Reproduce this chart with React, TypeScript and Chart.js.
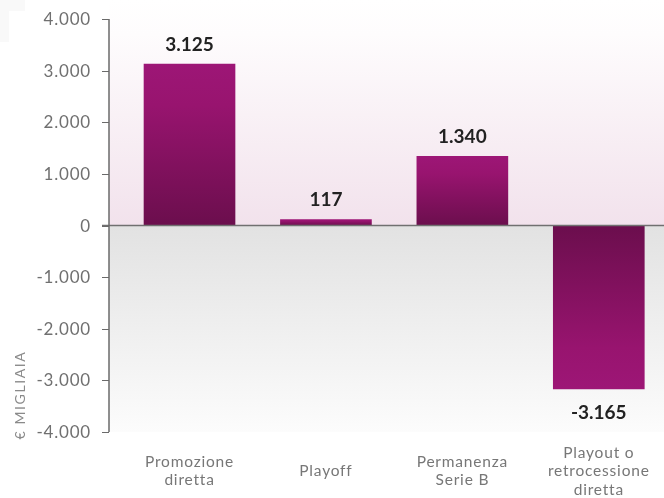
import React, { useEffect, useRef } from 'react';
import { Chart, registerables } from 'chart.js';

Chart.register(...registerables);

const categories: string[][] = [
  ['Promozione', 'diretta'],
  ['Playoff'],
  ['Permanenza', 'Serie B'],
  ['Playout o', 'retrocessione', 'diretta'],
];
const values: number[] = [3125, 117, 1340, -3165];
const yMin = -4000;
const yMax = 4000;
const yStep = 1000;
const yTitle = '€ MIGLIAIA';

function fmt(v: number): string {
  const s = Math.abs(Math.round(v)).toString();
  const withDots = s.replace(/\B(?=(\d{3})+(?!\d))/g, '.');
  return (v < 0 ? '-' : '') + withDots;
}

const FONT = 'Lato, "Open Sans", sans-serif';

const decorPlugin = {
  id: 'decor',
  beforeDraw(chart: any) {
    const { ctx, scales } = chart;
    const y = scales.y;
    const y0 = y.getPixelForValue(0);
    const yBot = y.getPixelForValue(yMin);
    const xl = 109;
    const xr = chart.width;
    ctx.save();
    ctx.fillStyle = '#f9f9f9';
    ctx.fillRect(0, 0, 25, 11);
    ctx.fillRect(0, 0, 9, 42);
    const gp = ctx.createLinearGradient(0, 0, 0, y0);
    gp.addColorStop(0, '#ffffff');
    gp.addColorStop(0.15, '#fefcfd');
    gp.addColorStop(1, '#f2e2ec');
    ctx.fillStyle = gp;
    ctx.fillRect(xl, 0, xr - xl, y0);
    const gg = ctx.createLinearGradient(0, y0, 0, yBot);
    gg.addColorStop(0, '#e2e2e2');
    gg.addColorStop(1, '#fcfcfc');
    ctx.fillStyle = gg;
    ctx.fillRect(xl, y0, xr - xl, yBot - y0);
    ctx.restore();
  },
  afterDatasetsDraw(chart: any) {
    const { ctx, scales } = chart;
    const y = scales.y;
    const x = scales.x;
    const y0 = y.getPixelForValue(0);
    const yTop = y.getPixelForValue(yMax);
    const yBot = y.getPixelForValue(yMin);
    const xl = 109;
    ctx.save();
    ctx.strokeStyle = '#707070';
    ctx.lineWidth = 1.5;
    ctx.beginPath();
    ctx.moveTo(102, y0);
    ctx.lineTo(chart.width, y0);
    ctx.stroke();
    ctx.strokeStyle = '#6a6a6a';
    ctx.lineWidth = 1.5;
    ctx.beginPath();
    ctx.moveTo(xl, yTop);
    ctx.lineTo(xl, yBot);
    ctx.stroke();
    // tick marks + labels from the y scale's ticks
    ctx.fillStyle = '#707070';
    ctx.font = `17px ${FONT}`;
    try { (ctx as any).letterSpacing = '0.8px'; } catch (e) {}
    ctx.textAlign = 'right';
    ctx.textBaseline = 'middle';
    y.ticks.forEach((t: any) => {
      const py = Math.round(y.getPixelForValue(t.value)) + 0.5;
      ctx.beginPath();
      ctx.lineWidth = 1;
      ctx.moveTo(102, py);
      ctx.lineTo(xl, py);
      ctx.stroke();
      ctx.fillText(fmt(t.value), 91, py);
    });
    try { (ctx as any).letterSpacing = '0px'; } catch (e) {}
    const meta = chart.getDatasetMeta(0);
    ctx.fillStyle = '#222222';
    ctx.font = `bold 19px ${FONT}`;
    ctx.textAlign = 'center';
    meta.data.forEach((el: any, i: number) => {
      const v = values[i];
      if (v >= 0) {
        ctx.textBaseline = 'alphabetic';
        ctx.fillText(fmt(v), el.x, el.y - 13);
      } else {
        ctx.textBaseline = 'top';
        ctx.fillText(fmt(v), el.x, el.y + 14);
      }
    });
    ctx.fillStyle = '#777777';
    ctx.font = `15.5px ${FONT}`;
    try { (ctx as any).letterSpacing = '0.8px'; } catch (e) {}
    ctx.textBaseline = 'middle';
    const lh = 18.5;
    const cy = 471;
    categories.forEach((lines, i) => {
      const px = x.getPixelForValue(i);
      lines.forEach((ln, j) => {
        ctx.fillText(ln, px, cy + (j - (lines.length - 1) / 2) * lh);
      });
    });
    ctx.translate(20, 395);
    ctx.rotate(-Math.PI / 2);
    ctx.fillStyle = '#8a8a8a';
    ctx.font = `14px ${FONT}`;
    try { (ctx as any).letterSpacing = '1.6px'; } catch (e) {}
    ctx.textAlign = 'center';
    ctx.textBaseline = 'middle';
    ctx.fillText(yTitle, 0, 0);
    try { (ctx as any).letterSpacing = '0px'; } catch (e) {}
    ctx.restore();
  },
};

export default function App() {
  const ref = useRef<HTMLCanvasElement | null>(null);
  useEffect(() => {
    if (!ref.current) return;
    const chart = new Chart(ref.current, {
      type: 'bar',
      data: {
        labels: categories.map((c) => c.join(' ')),
        datasets: [
          {
            data: values,
            barThickness: 91,
            backgroundColor: (c: any) => {
              const ch = c.chart;
              const { chartArea, scales } = ch;
              if (!chartArea || c.dataIndex === undefined || !scales.y) return '#8a1266';
              const v = values[c.dataIndex];
              const py0 = scales.y.getPixelForValue(0);
              const py1 = scales.y.getPixelForValue(v);
              const g = ch.ctx.createLinearGradient(0, py1, 0, py0);
              g.addColorStop(0, '#9d1676');
              g.addColorStop(0.25, '#98146f');
              g.addColorStop(1, '#6b0e4d');
              return g;
            },
            borderWidth: 0,
          },
        ],
      },
      options: {
        animation: false,
        responsive: false,
        devicePixelRatio: 1,
        layout: { padding: { left: 121.3, right: 0, top: 19, bottom: 66 } },
        plugins: { legend: { display: false }, title: { display: false }, tooltip: { enabled: false } },
        scales: {
          x: {
            type: 'category',
            display: false,
            offset: true,
          },
          y: {
            display: false,
            min: yMin,
            max: yMax,
            ticks: { stepSize: yStep },
          },
        },
      },
      plugins: [decorPlugin],
    });
    return () => chart.destroy();
  }, []);
  return (
    <div
      style={{
        position: 'absolute',
        left: 0,
        top: 0,
        width: 664,
        height: 498,
        overflow: 'hidden',
        background: '#ffffff',
      }}
    >
      <canvas ref={ref} width={667} height={498} style={{ display: 'block' }} />
    </div>
  );
}
